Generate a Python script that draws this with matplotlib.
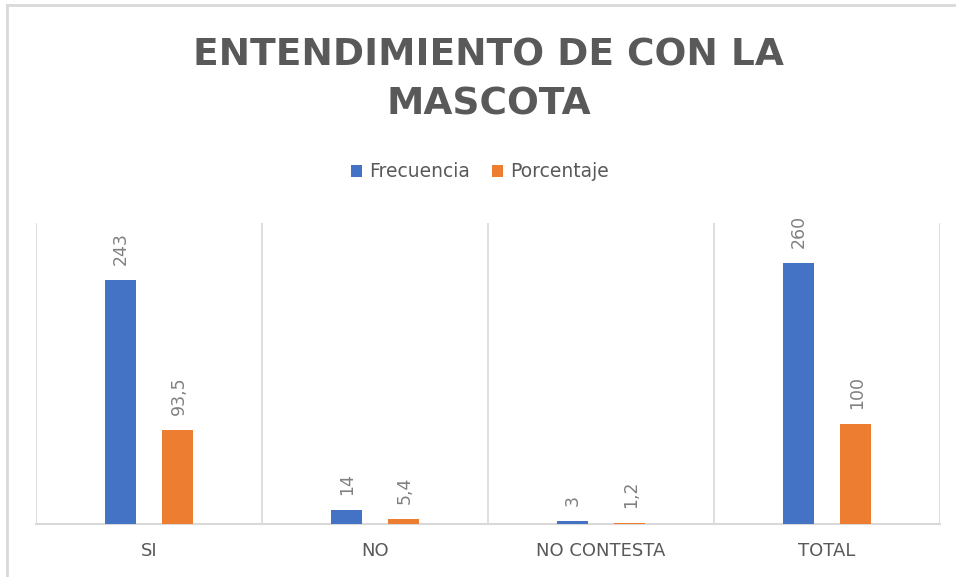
import numpy as np
import matplotlib
matplotlib.use("Agg")
import matplotlib.pyplot as plt
from matplotlib.lines import Line2D

# data
categorias = ["SI", "NO", "NO CONTESTA", "TOTAL"]
frecuencia = [243, 14, 3, 260]
porcentaje = [93.5, 5.4, 1.2, 100]
series_names = ["Frecuencia", "Porcentaje"]

BLUE = "#4472C4"
ORANGE = "#ED7D31"
GRID = "#D9D9D9"
TXT = "#595959"
LBL = "#808080"

plt.rcParams['font.family'] = ['DejaVu Sans']

fig = plt.figure(figsize=(9.56, 5.77), dpi=100)
ax = fig.add_axes([36 / 956, 1 - 524 / 577, (940 - 36) / 956, (524 - 223) / 577])

x = np.arange(len(categorias))
w = 0.137
off = 0.128
b1 = ax.bar(x - off, frecuencia, w, color=BLUE, label=series_names[0], zorder=3)
b2 = ax.bar(x + off, porcentaje, w, color=ORANGE, label=series_names[1], zorder=3)


def fmt(v):
    return f"{v:g}".replace(".", ",")


for bars, vals in ((b1, frecuencia), (b2, porcentaje)):
    for rect, v in zip(bars, vals):
        ax.annotate(fmt(v), (rect.get_x() + rect.get_width() / 2, rect.get_height()),
                    xytext=(1, 15), textcoords="offset pixels", rotation=90,
                    ha="center", va="bottom", fontsize=12.5, color=LBL)

ax.set_xlim(-0.5, len(categorias) - 0.5)
ax.set_ylim(0, 300)

# category separators
for xb in np.arange(-0.5, len(categorias)):
    ax.axvline(xb, color=GRID, lw=1.2, zorder=1)

for s in ("top", "left", "right"):
    ax.spines[s].set_visible(False)
ax.spines["bottom"].set_color(GRID)
ax.spines["bottom"].set_linewidth(1.5)
ax.set_yticks([])
ax.set_xticks(x)
ax.set_xticklabels(categorias, fontsize=13, color=TXT)
ax.tick_params(axis="x", length=0, pad=13)

fig.text(0.511, 1 - 80 / 577, "ENTENDIMIENTO DE CON LA\nMASCOTA", ha="center", va="center",
         fontsize=27, fontweight="bold", color=TXT, linespacing=1.45)

fig.legend(handles=[b1, b2], labels=series_names, loc="center", bbox_to_anchor=(0.502, 1 - 172 / 577),
           ncol=2, frameon=False, fontsize=13.5, labelcolor=TXT, handlelength=0.6, handleheight=0.6,
           handletextpad=0.35, columnspacing=1.2)

# chart area border (left and top only visible)
fig.add_artist(Line2D([7 / 956, 7 / 956], [0, 1 - 5 / 577], color=GRID, lw=2, transform=fig.transFigure))
fig.add_artist(Line2D([7 / 956, 1], [1 - 5 / 577, 1 - 5 / 577], color=GRID, lw=2, transform=fig.transFigure))

fig.savefig("out.png", dpi=100)
